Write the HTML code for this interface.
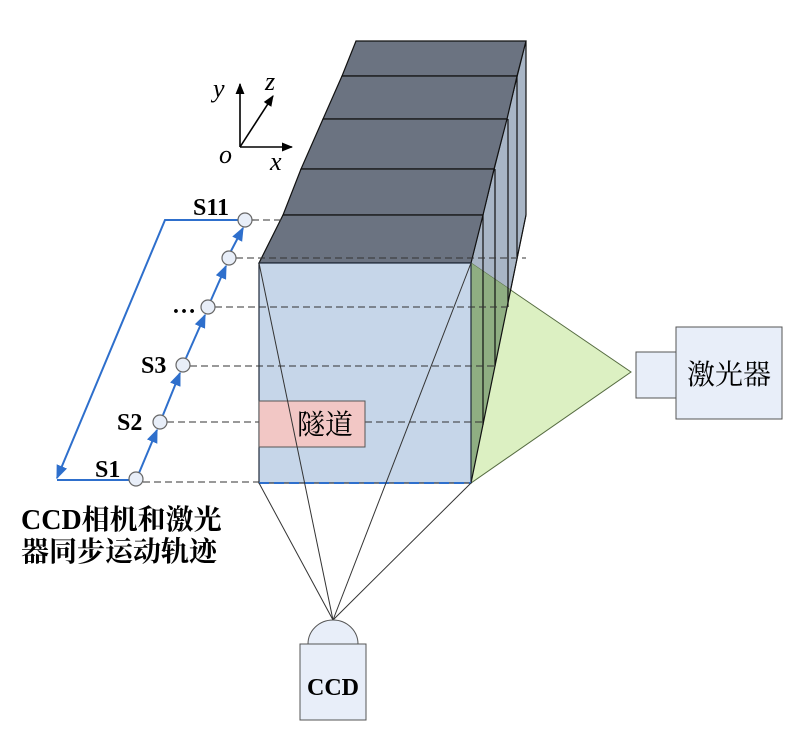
<!DOCTYPE html>
<html><head><meta charset="utf-8"><style>
html,body{margin:0;padding:0;background:#fff;}
svg{display:block;}
text{font-family:"Liberation Serif","Noto Serif CJK SC","Noto Sans CJK SC",serif;}
</style></head><body>
<svg width="812" height="739" viewBox="0 0 812 739" xmlns="http://www.w3.org/2000/svg">
<defs>
<marker id="ab" viewBox="0 0 10 10" refX="9" refY="5" markerWidth="7" markerHeight="7" orient="auto"><path d="M0,1 L10,5 L0,9 z" fill="#2e6fcc"/></marker>
<marker id="ak" viewBox="0 0 10 10" refX="9" refY="5" markerWidth="7" markerHeight="7" orient="auto"><path d="M0,1 L10,5 L0,9 z" fill="#000"/></marker>
<clipPath id="slab"><polygon points="471,263 526,41 526,215 471,483"/></clipPath>
</defs>

<polygon points="471,263 526,41 526,215 471,483" fill="#a9b6c6" stroke="#222" stroke-width="1"/>
<polygon points="471,263 631,372 471,483" fill="#dcf0c2" stroke="#556b40" stroke-width="1"/>
<polygon points="471,263 631,372 471,483" fill="#8fae82" clip-path="url(#slab)"/>
<g stroke="#111" stroke-width="1.2">
<line x1="483" y1="215" x2="483" y2="425"/>
<line x1="495" y1="169" x2="495" y2="366"/>
<line x1="508" y1="119" x2="508" y2="307"/>
<line x1="517" y1="76" x2="517" y2="257"/>
<line x1="526" y1="41" x2="526" y2="215"/>
<line x1="471" y1="483" x2="526" y2="215"/>
</g>

<g fill="#6b7381" stroke="#111" stroke-width="1.2">
<polygon points="356,41 526,41 517,76 342,76"/>
<polygon points="342,76 517,76 507,119 323,119"/>
<polygon points="323,119 507,119 494,169 301,169"/>
<polygon points="301,169 494,169 483,215 283,215"/>
<polygon points="283,215 483,215 471,263 259,263"/>
</g>

<rect x="259" y="263" width="212" height="220" fill="#c6d6e9" stroke="#1e2a3a" stroke-width="1.2"/>
<line x1="259" y1="483" x2="471" y2="483" stroke="#2e6fcc" stroke-width="2" stroke-dasharray="10,5"/>

<g stroke="#333" stroke-width="1.1" stroke-dasharray="7,4" fill="none">
<line x1="252" y1="220" x2="285" y2="220"/>
<line x1="236" y1="258" x2="526" y2="258"/>
<line x1="215" y1="307" x2="508" y2="307"/>
<line x1="190" y1="366" x2="495" y2="366"/>
<line x1="167" y1="422" x2="483" y2="422"/>
<line x1="143" y1="482" x2="259" y2="482"/>
</g>

<rect x="259" y="401" width="106" height="46" fill="#f2c7c5" stroke="#555" stroke-width="1"/>
<text x="297" y="434" font-size="28">隧道</text>

<g stroke="#333" stroke-width="1">
<line x1="333" y1="620" x2="259" y2="483"/>
<line x1="333" y1="620" x2="259" y2="263"/>
<line x1="333" y1="620" x2="471" y2="263"/>
<line x1="333" y1="620" x2="471" y2="483"/>
</g>
<path d="M308,644 A25,24 0 0 1 358,644 Z" fill="#e8eef9" stroke="#555" stroke-width="1"/>
<rect x="300" y="644" width="66" height="76" fill="#e8eef9" stroke="#555" stroke-width="1"/>
<text x="333" y="695" font-size="24" font-weight="bold" text-anchor="middle">CCD</text>

<rect x="636" y="352" width="40" height="46" fill="#e8eef9" stroke="#555" stroke-width="1"/>
<rect x="676" y="327" width="106" height="92" fill="#e8eef9" stroke="#555" stroke-width="1"/>
<text x="729" y="384" font-size="28" text-anchor="middle">激光器</text>

<g stroke="#2e6fcc" stroke-width="2" fill="none">
<polyline points="238,220 165,220 57,478" marker-end="url(#ab)"/>
<line x1="57" y1="480" x2="129" y2="480"/>
<line x1="139" y1="473" x2="157" y2="430" marker-end="url(#ab)"/>
<line x1="163" y1="415" x2="180" y2="373" marker-end="url(#ab)"/>
<line x1="186" y1="358" x2="205" y2="315" marker-end="url(#ab)"/>
<line x1="211" y1="300" x2="226" y2="266" marker-end="url(#ab)"/>
<line x1="231" y1="251" x2="243" y2="228" marker-end="url(#ab)"/>
</g>
<g fill="#e8eef8" stroke="#666" stroke-width="1.2">
<circle cx="136" cy="479" r="7"/>
<circle cx="160" cy="422" r="7"/>
<circle cx="183" cy="365" r="7"/>
<circle cx="208" cy="307" r="7"/>
<circle cx="229" cy="258" r="7"/>
<circle cx="245" cy="220" r="7"/>
</g>
<g font-size="24" font-weight="bold">
<text x="193" y="215">S11</text>
<text x="172" y="313">…</text>
<text x="141" y="373">S3</text>
<text x="117" y="430">S2</text>
<text x="95" y="477">S1</text>
</g>

<g stroke="#000" stroke-width="1.6">
<line x1="240" y1="147" x2="240" y2="84" marker-end="url(#ak)"/>
<line x1="240" y1="147" x2="292" y2="147" marker-end="url(#ak)"/>
<line x1="240" y1="147" x2="273" y2="96" marker-end="url(#ak)"/>
</g>
<g font-size="26" font-style="italic">
<text x="213" y="97">y</text>
<text x="265" y="90">z</text>
<text x="219" y="163">o</text>
<text x="270" y="170">x</text>
</g>

<g font-size="28" font-weight="bold">
<text x="21" y="529">CCD相机和激光</text>
<text x="21" y="561">器同步运动轨迹</text>
</g>
</svg>
</body></html>
